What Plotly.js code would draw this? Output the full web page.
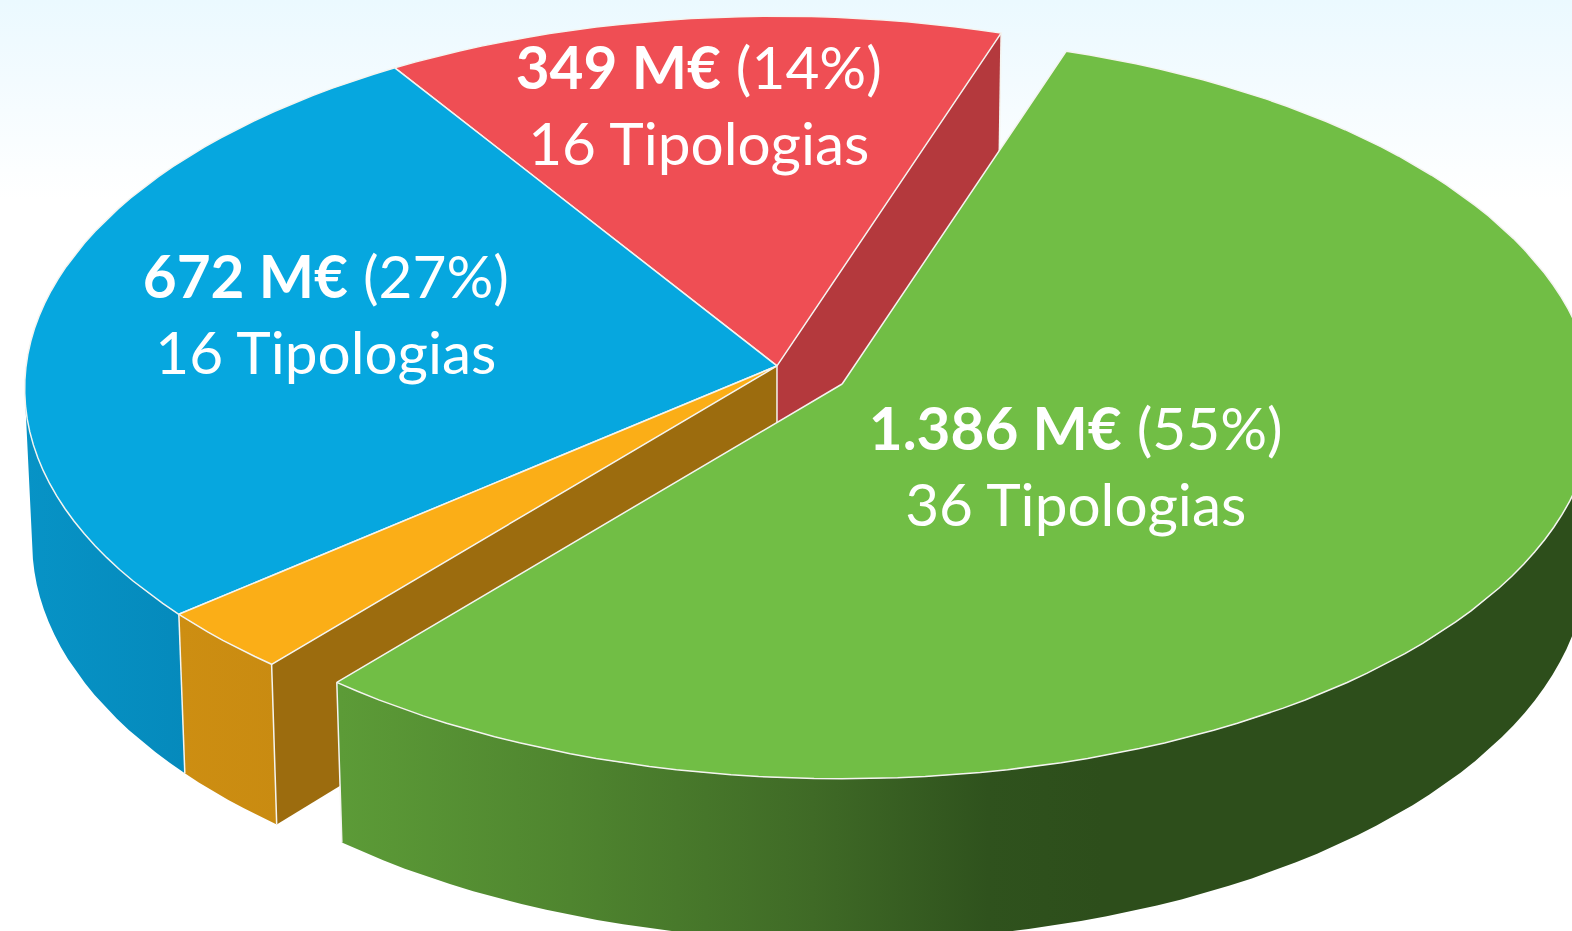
<!DOCTYPE html>
<html>
<head>
<meta charset="utf-8">
<script src="https://cdn.plot.ly/plotly-3.0.1.min.js"></script>
<style>
html,body{margin:0;padding:0;width:1572px;height:931px;overflow:hidden;background:#fff}
#bg{position:absolute;left:0;top:0;width:1572px;height:200px;background:linear-gradient(to bottom,#ebf9ff 0%,#f3fbff 40%,#ffffff 100%)}
#chart{position:absolute;left:0;top:0;width:1572px;height:931px}
</style>
</head>
<body>
<div id="bg"></div>
<div id="chart"></div>
<script>
// Data (clockwise from the green slice)
var sliceNames  = ['Verde', 'Laranja', 'Azul', 'Vermelho'];
var amounts     = [1386, 69, 672, 349];       // M€ (orange value estimated from its angle)
var amountTexts = ['1.386 M€', '', '672 M€', '349 M€'];
var percents    = ['55%', '', '27%', '14%'];
var typologies  = ['36 Tipologias', '', '16 Tipologias', '16 Tipologias'];

// Styles
var topColors   = ['#71be45', '#fbae17', '#06a7df', '#ef4e54'];
var cutColors   = [null, '#9c6c0e', null, '#b4393d'];

// Projection of the 3D disc onto the page
var k = 1572 / 1568, cx = 775 * k, cy = 365 * k, ra = 749 * k, rb = 370 * k, persp = 0.0606;
var depth = 153 * k, startDeg = 18.4, step = 2, leftSilhouetteDeg = 264;
var explode = [[65 * k, 18 * k], [0, 0], [0, 0], [0, 0]];

function pt(deg, r, off, low) {
  var t = deg * Math.PI / 180, X = r * Math.sin(t), Y = -r * Math.cos(t), w = 1 - persp * Y;
  var s = low ? 0.99 : 1;
  return [cx + off[0] + s * ra * X / w,
          cy + off[1] + rb * Y / w + (low ? depth / (1 - 0.055 * Y) : 0)];
}
function arc(a0, a1, off, low) {
  var out = [], n = Math.max(1, Math.ceil(Math.abs(a1 - a0) / step));
  for (var i = 0; i <= n; i++) out.push(pt(a0 + (a1 - a0) * i / n, 1, off, low));
  return out;
}
function poly(points, color, extra) {
  var tr = {type: 'scatter', mode: 'lines', hoverinfo: 'skip', fill: 'toself', fillcolor: color,
    x: points.map(function (p) { return p[0]; }), y: points.map(function (p) { return p[1]; }),
    line: {width: 0, color: color}};
  for (var key in extra) tr[key] = extra[key];
  return tr;
}
function edge(p, q) {
  return {type: 'scatter', mode: 'lines', hoverinfo: 'skip', x: [p[0], q[0]], y: [p[1], q[1]],
    line: {color: '#f4f4f0', width: 1.5}};
}

var total = amounts.reduce(function (a, b) { return a + b; }, 0);
var bounds = [startDeg];
amounts.forEach(function (v, i) { bounds.push(bounds[i] + v / total * 360); });

function centre(off, low) {
  return [cx + off[0], cy + off[1] + (low ? depth : 0)];
}
var wallGradients = {
  0: {type: 'horizontal', start: 340 * k, stop: 1100 * k,
      colorscale: [[0, '#5c9b37'], [0.3, '#4f852f'], [0.62, '#3f6a26'], [0.85, '#2f521d'], [1, '#2d4e1b']]},
  1: {type: 'horizontal', start: 180 * k, stop: 280 * k,
      colorscale: [[0, '#cd8e12'], [1, '#c98b11']]},
  2: {type: 'horizontal', start: 25 * k, stop: 185 * k,
      colorscale: [[0, '#0793c6'], [1, '#058abc']]}
};

var traces = [];
var none = [0, 0];

// Red slice: cut face towards the green slice (start of the circle)
traces.push(poly([centre(none), pt(bounds[0], 1, none), pt(bounds[0], 1, none, true), centre(none, true)], cutColors[3]));
// Orange slice: cut face towards the green slice
traces.push(poly([centre(none), pt(bounds[1], 1, none), pt(bounds[1], 1, none, true), centre(none, true)], cutColors[1]));
traces.push(edge(centre(none), [cx, cy + 57 * k]));
traces.push(edge(pt(bounds[0], 1, none), pt(bounds[0], 1, none, true)));

// Outer walls: blue (up to its left silhouette), orange
[2, 1].forEach(function (i) {
  var a0 = bounds[i], a1 = Math.min(bounds[i + 1], leftSilhouetteDeg);
  var pts = arc(a0, a1, none).concat(arc(a1, a0, none, true));
  traces.push(poly(pts, topColors[i], {fillgradient: wallGradients[i]}));
});
traces.push(edge(pt(bounds[1], 1, none), pt(bounds[1], 1, none, true)));
traces.push(edge(pt(bounds[2], 1, none), pt(bounds[2], 1, none, true)));

// Top faces: red, blue, orange
[3, 2, 1].forEach(function (i) {
  var pts = [centre(none)].concat(arc(bounds[i], bounds[i + 1], none)).concat([centre(none)]);
  traces.push(poly(pts, topColors[i], {line: {width: 1.5, color: '#f4f4f0'}}));
});

// Green slice, pulled out: wall then top
var gOff = explode[0];
var gA = Math.max(bounds[0], 85), gB = bounds[1];
traces.push(poly(arc(gA, gB, gOff).concat(arc(gB, gA, gOff, true)), topColors[0], {fillgradient: wallGradients[0]}));
traces.push(edge(pt(gB, 1, gOff), pt(gB, 1, gOff, true)));
var gPts = [centre(gOff)].concat(arc(bounds[0], bounds[1], gOff)).concat([centre(gOff)]);
traces.push(poly(gPts, topColors[0], {line: {width: 1.5, color: '#f4f4f0'}}));

// Labels
var labelAt = {0: [1073, 472], 2: [325, 321], 3: [697, 112]};
var lx = [], ly = [], lt = [];
[0, 2, 3].forEach(function (i) {
  lx.push(labelAt[i][0] * k);
  ly.push(labelAt[i][1] * k);
  lt.push('<b>' + amountTexts[i] + '</b> (' + percents[i] + ')<br>' + typologies[i]);
});
traces.push({type: 'scatter', mode: 'text', hoverinfo: 'skip', x: lx, y: ly, text: lt,
  textposition: 'middle center', textfont: {family: 'Lato, "Open Sans", sans-serif', size: 58.5, color: '#ffffff'}});

Plotly.newPlot('chart', traces, {
  width: 1572, height: 931, showlegend: false,
  margin: {l: 0, r: 0, t: 0, b: 0},
  paper_bgcolor: 'rgba(0,0,0,0)', plot_bgcolor: 'rgba(0,0,0,0)',
  xaxis: {range: [0, 1572], visible: false, fixedrange: true},
  yaxis: {range: [931, 0], visible: false, fixedrange: true}
}, {displayModeBar: false, staticPlot: true});
</script>
</body>
</html>
